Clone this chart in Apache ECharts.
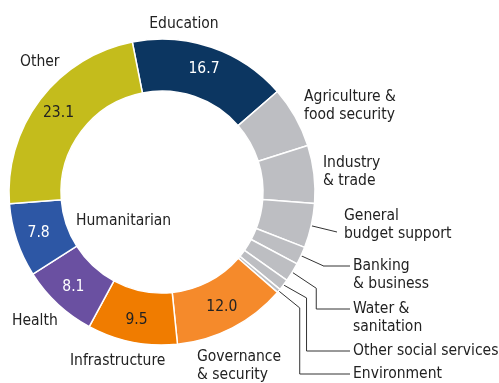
<!DOCTYPE html>
<html><head><meta charset="utf-8">
<script src="https://cdn.jsdelivr.net/npm/echarts@6/dist/echarts.min.js"></script>
<style>html,body{margin:0;padding:0;background:#fff}#c{width:499px;height:383px}</style>
</head><body><div id="c"></div>
<script>
// ---- data ----
const categories = ['Education','Agriculture & food security','Industry & trade','General budget support','Banking & business','Water & sanitation','Other social services','Environment','Governance & security','Infrastructure','Health','Humanitarian','Other'];
const labelTexts = ['Education','Agriculture &\nfood security','Industry\n& trade','General\nbudget support','Banking\n& business','Water &\nsanitation','Other social services','Environment','Governance\n& security','Infrastructure','Health','Humanitarian','Other'];
const values = [16.7, 6.5, 6.1, 4.7, 1.9, 2.0, 1.2, 0.4, 12.0, 9.5, 8.1, 7.8, 23.1];
const showValue = [true,false,false,false,false,false,false,false,true,true,true,true,true];

// ---- styles ----
const colors = ['#0c3661','#bdbec2','#bdbec2','#bdbec2','#bdbec2','#bdbec2','#bdbec2','#bdbec2','#f58a2b','#f07c00','#6a50a1','#2d57a5','#c4bc1c'];
const valueColors = ['#ffffff','','','','','','','','#222222','#222222','#ffffff','#ffffff','#222222'];
// label anchors: [x, first-line centre y, align, leader]
const layout = {
  'Education': [184, 23.5, 'center'],
  'Agriculture & food security': [304, 97, 'left'],
  'Industry & trade': [323, 163, 'left'],
  'General budget support': [344, 216, 'left', {line: 1}],
  'Banking & business': [353, 266, 'left', {dx: 22, dy: 10}],
  'Water & sanitation': [353, 309, 'left', {dx: 24, dy: 16}],
  'Other social services': [353, 351, 'left', {dx: 23, dy: 13}],
  'Environment': [353, 374, 'left', {dx: 21, dy: 17}],
  'Governance & security': [197, 357, 'left'],
  'Infrastructure': [70, 361, 'left'],
  'Health': [12, 321, 'left'],
  'Humanitarian': [76, 221, 'left'],
  'Other': [20, 61.5, 'left']
};
const CX = 162, CY = 192, R0 = 101, R1 = 153, START = 101.2, LH = 18;

function has(f){const c=document.createElement('canvas').getContext('2d');const t='Humanitarian services 16.7';c.font='40px monospace';const w0=c.measureText(t).width;c.font="40px '"+f+"', monospace";return c.measureText(t).width!==w0;}
const cands=[['Liberation Sans Narrow',17.5],['DejaVu Sans Condensed',15.5],['Open Sans',15]];
let FONT='sans-serif', FS=15;
for(const [f,s] of cands){ if(has(f)){FONT="'"+f+"'";FS=s;break;} }

const total = values.reduce((a,b)=>a+b,0);
function edgePoint(i){
  let cum=0; for(let k=0;k<i;k++) cum+=values[k];
  const a=(START-(cum+values[i]/2)/total*360)*Math.PI/180;
  return [CX+R1*Math.cos(a), CY-R1*Math.sin(a)];
}

const chart = echarts.init(document.getElementById('c'), null, {renderer:'canvas'});
chart.setOption({
  backgroundColor:'#fff',
  animation:false,
  series:[{
    type:'pie', center:[CX,CY], radius:[R0,R1], startAngle:START, clockwise:true,
    avoidLabelOverlap:false, silent:true,
    itemStyle:{borderColor:'#fff', borderWidth:1.5},
    label:{show:true, position:'outside', color:'#222', fontFamily:FONT, fontSize:FS, lineHeight:LH},
    labelLine:{show:false, lineStyle:{color:'#333', width:1}, smooth:false},
    data: categories.map((c,i)=>({name:c, value:values[i], itemStyle:{color:colors[i]},
      label:{formatter:labelTexts[i]},
      labelLine:{show: !!layout[c][3]}})),
    labelLayout: function(p){
      const L = layout[categories[p.dataIndex]];
      const res = {x:L[0], y:L[1]-LH/2, align:L[2], verticalAlign:'top', hideOverlap:false, moveOverlap:null};
      const ld = L[3];
      if(ld){
        const p0 = edgePoint(p.dataIndex);
        if(ld.line){
          res.labelLinePoints=[p0,[L[0]-7, L[1]+LH-2],[L[0]-7, L[1]+LH-2]];
        } else {
          const p1=[p0[0]+ld.dx, p0[1]+ld.dy];
          res.labelLinePoints=[p0,p1,[p1[0], L[1]],[L[0]-3, L[1]]];
        }
      }
      return res;
    }
  },{
    type:'pie', center:[CX,CY], radius:[R0,R1], startAngle:START, clockwise:true, silent:true,
    itemStyle:{color:'rgba(0,0,0,0)', borderWidth:0},
    label:{show:true, position:'inside', fontFamily:FONT, fontSize:FS, padding:[3,0,0,0]},
    labelLine:{show:false},
    data: categories.map((c,i)=>({name:c, value:values[i],
      label:{show:showValue[i], formatter: values[i].toFixed(1), color: valueColors[i]||'#222'}}))
  }]
});
</script></body></html>
